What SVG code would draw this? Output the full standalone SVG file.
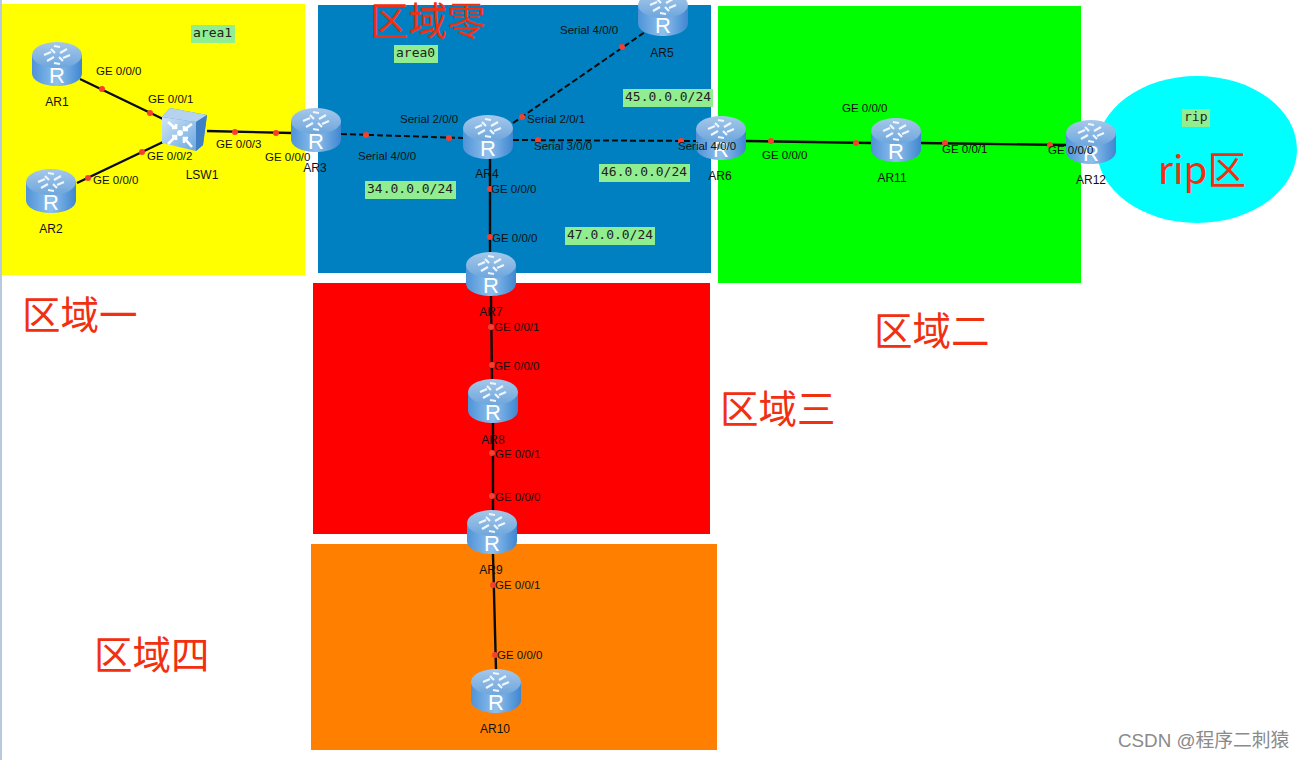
<svg xmlns="http://www.w3.org/2000/svg" width="1305" height="760" viewBox="0 0 1305 760">
<style>
.lbl{font-family:"Liberation Sans",Arial,sans-serif;font-size:11.5px;fill:#111}
.name{font-family:"Liberation Sans",Arial,sans-serif;font-size:12px;fill:#111;text-anchor:middle}
.net{font-family:"DejaVu Sans Mono","Liberation Mono",monospace;font-size:13px;fill:#222}
.tag{fill:#90ee90}
.zone{font-family:"Noto Sans CJK SC","Noto Sans",sans-serif;font-size:38.5px;fill:#f03010}
.wire{fill:none;stroke:#0a0a0a;stroke-width:2.4}
.ser{fill:none;stroke:#0a0a0a;stroke-width:2;stroke-dasharray:6 3}
.dot{fill:#f5402f}
.rout{font-family:"Liberation Sans",Arial,sans-serif;font-size:22px;fill:#fff;text-anchor:middle}
</style>
<defs>
<linearGradient id="body" x1="0" x2="1" y1="0" y2="0">
<stop offset="0" stop-color="#4f93d8"/><stop offset=".5" stop-color="#8fc0ec"/><stop offset="1" stop-color="#3f86d0"/>
</linearGradient>
<linearGradient id="top" x1="0" x2="0" y1="0" y2="1">
<stop offset="0" stop-color="#a5c8ea"/><stop offset="1" stop-color="#6ea6dc"/>
</linearGradient>
<linearGradient id="sw" x1="0" x2="1" y1="0" y2="1">
<stop offset="0" stop-color="#cfe4f7"/><stop offset="1" stop-color="#6aa8e0"/>
</linearGradient>
<g id="router">
<path d="M-25-9V9C-25 17-14 22 0 22S25 17 25 9V-9Z" fill="url(#body)"/>
<ellipse cx="0" cy="-9" rx="25" ry="13" fill="url(#top)"/>
<path d="M-13-9L-6-12M-6-15L-2-11M13-9L6-6M6-3L2-7M-10-3L-3-7M10-15L3-11M-3-18L3-17M3 0L-3-1" stroke="#eef6ff" stroke-width="2.2" fill="none"/>
<text class="rout" x="0" y="19">R</text>
</g>
</defs>
<rect width="1305" height="760" fill="#fff"/>
<rect x="0" y="0" width="2" height="760" fill="#b9c9de"/>
<g id="zones">
<rect x="2" y="4" width="303" height="271" fill="#ffff00"/>
<rect x="318" y="5" width="393" height="268" fill="#0080c0"/>
<rect x="718" y="6" width="363" height="277" fill="#00ff00"/>
<rect x="313" y="283" width="397" height="251" fill="#ff0000"/>
<rect x="311" y="544" width="406" height="206" fill="#ff8000"/>
<ellipse cx="1197" cy="149.500" rx="100" ry="73.500" fill="#00ffff"/>
</g>
<g id="connectors">
<path class="wire" d="M80 79L163 119M77 183L163 142M207 131L292 133M490 159V253M491 296L492 380M493 423V511M493 554L496 670M746 141L872 143M921 143L1067 145"/>
<path class="ser" d="M341 134L463 138M513 123L645 32M513 140L697 141"/>
</g>
<g id="nodes">
<g id="AR1"><use href="#router" x="57" y="64"/><text class="name" x="57" y="106">AR1</text></g>
<g id="AR2"><use href="#router" x="51" y="191"/><text class="name" x="51" y="233">AR2</text></g>
<g id="LSW1">
<path d="M162 117L170 108L207 115L203 145L196 151Z" fill="#4f8fd0"/>
<path d="M162 117L196 122V151L162 143Z" fill="url(#sw)"/>
<path d="M162 117L170 108L207 115L196 122Z" fill="#b5d3ef"/>
<path d="M196 122L207 115L203 145L196 151Z" fill="#3f7fc4"/>
<g stroke="#fff" stroke-width="2.6" fill="none">
<path d="M168 122L175 128M172 128H176V124"/>
<path d="M192 124L185 129M188 130H184V126"/>
<path d="M168 144L175 137M172 136H176V140"/>
<path d="M192 147L185 139M188 138H184V143"/>
</g>
<circle cx="180" cy="133" r="3" fill="#fff"/>
<text class="name" x="202" y="179">LSW1</text>
</g>
<g id="AR3"><use href="#router" x="316" y="130"/><text class="name" x="315" y="172">AR3</text></g>
<g id="AR4"><use href="#router" x="488" y="137"/><text class="name" x="487" y="178">AR4</text></g>
<g id="AR5"><use href="#router" x="663" y="14"/><text class="name" x="662" y="57">AR5</text></g>
<g id="AR6"><use href="#router" x="721" y="138"/><text class="name" x="720" y="180">AR6</text></g>
<g id="AR7"><use href="#router" x="491" y="274"/><text class="name" x="491" y="316">AR7</text></g>
<g id="AR8"><use href="#router" x="493" y="401"/><text class="name" x="493" y="444">AR8</text></g>
<g id="AR9"><use href="#router" x="492" y="532"/><text class="name" x="491" y="574">AR9</text></g>
<g id="AR10"><use href="#router" x="496" y="691"/><text class="name" x="495" y="733">AR10</text></g>
<g id="AR11"><use href="#router" x="896" y="140"/><text class="name" x="892" y="182">AR11</text></g>
<g id="AR12"><use href="#router" x="1091" y="142"/><text class="name" x="1091" y="184">AR12</text></g>
</g>
<g id="dots" class="dot">
<circle cx="102" cy="89" r="3"/><circle cx="150" cy="113" r="3"/><circle cx="142" cy="152" r="3"/><circle cx="88" cy="178" r="3"/>
<circle cx="235" cy="132" r="3"/><circle cx="276" cy="133" r="3"/><circle cx="366" cy="135" r="3"/><circle cx="449" cy="138" r="3"/>
<circle cx="622" cy="47" r="3"/><circle cx="522" cy="117" r="3"/><circle cx="538" cy="140" r="3"/><circle cx="681" cy="141" r="3"/>
<circle cx="771" cy="141" r="3"/><circle cx="856" cy="143" r="3"/><circle cx="945" cy="143" r="3"/><circle cx="1050" cy="145" r="3"/>
<circle cx="490" cy="189" r="3"/><circle cx="490" cy="237" r="3"/><circle cx="491" cy="327" r="3"/><circle cx="492" cy="365" r="3"/>
<circle cx="492" cy="453" r="3"/><circle cx="492" cy="496" r="3"/><circle cx="493" cy="585" r="3"/><circle cx="495" cy="655" r="3"/>
</g>
<g id="labels">
<text class="lbl" x="96" y="75">GE 0/0/0</text>
<text class="lbl" x="148" y="103">GE 0/0/1</text>
<text class="lbl" x="147" y="160">GE 0/0/2</text>
<text class="lbl" x="93" y="184">GE 0/0/0</text>
<text class="lbl" x="216" y="148">GE 0/0/3</text>
<text class="lbl" x="265" y="161">GE 0/0/0</text>
<text class="lbl" x="358" y="160">Serial 4/0/0</text>
<text class="lbl" x="400" y="123">Serial 2/0/0</text>
<text class="lbl" x="527" y="123">Serial 2/0/1</text>
<text class="lbl" x="534" y="150">Serial 3/0/0</text>
<text class="lbl" x="560" y="34">Serial 4/0/0</text>
<text class="lbl" x="678" y="150">Serial 4/0/0</text>
<text class="lbl" x="762" y="159">GE 0/0/0</text>
<text class="lbl" x="842" y="112">GE 0/0/0</text>
<text class="lbl" x="942" y="153">GE 0/0/1</text>
<text class="lbl" x="1048" y="154">GE 0/0/0</text>
<text class="lbl" x="491" y="193">GE 0/0/0</text>
<text class="lbl" x="492" y="242">GE 0/0/0</text>
<text class="lbl" x="494" y="331">GE 0/0/1</text>
<text class="lbl" x="494" y="370">GE 0/0/0</text>
<text class="lbl" x="495" y="458">GE 0/0/1</text>
<text class="lbl" x="495" y="501">GE 0/0/0</text>
<text class="lbl" x="495" y="589">GE 0/0/1</text>
<text class="lbl" x="497" y="659">GE 0/0/0</text>
</g>
<g id="tags">
<rect class="tag" x="191" y="25" width="44" height="18"/><text class="net" x="193" y="37">area1</text>
<rect class="tag" x="394" y="45" width="44" height="18"/><text class="net" x="396" y="57">area0</text>
<rect class="tag" x="365" y="181" width="91" height="18"/><text class="net" x="367" y="193">34.0.0.0/24</text>
<rect class="tag" x="623" y="89" width="90" height="18"/><text class="net" x="625" y="101">45.0.0.0/24</text>
<rect class="tag" x="599" y="164" width="91" height="18"/><text class="net" x="601" y="176">46.0.0.0/24</text>
<rect class="tag" x="565" y="227" width="90" height="18"/><text class="net" x="567" y="239">47.0.0.0/24</text>
<rect class="tag" x="1182" y="109" width="28" height="18"/><text class="net" x="1184" y="121">rip</text>
</g>
<g id="zone-names">
<text class="zone" x="370" y="35">区域零</text>
<text class="zone" x="22" y="329">区域一</text>
<text class="zone" x="874" y="345">区域二</text>
<text class="zone" x="720" y="423">区域三</text>
<text class="zone" x="94" y="669">区域四</text>
<text class="zone" x="1158" y="184">rip区</text>
</g>
<text x="1118" y="747" font-family="'Liberation Sans','Noto Sans CJK SC',sans-serif" font-size="18.800" fill="#8a8a8a">CSDN @程序二刺猿</text>
</svg>
